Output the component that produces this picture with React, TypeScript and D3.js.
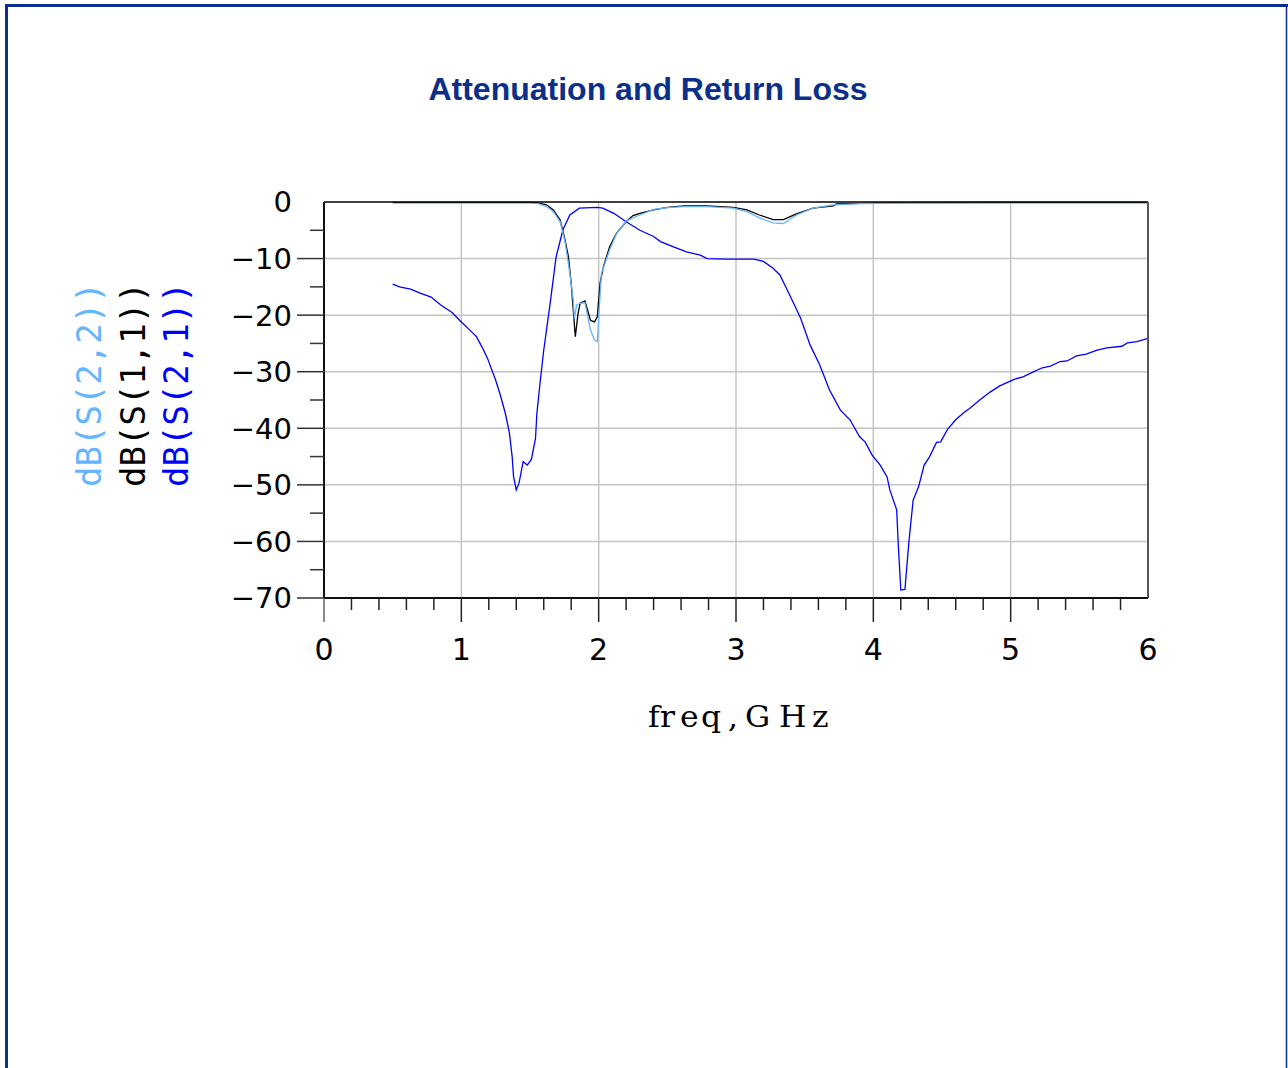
import React from 'react';
import * as d3 from 'd3';

// S21 (attenuation), S11 and S22 (return loss), freq in GHz, level in dB
const freqS21 = [0.50, 0.55, 0.63, 0.70, 0.78, 0.85, 0.93, 1.00, 1.06, 1.11, 1.15, 1.19, 1.25, 1.28, 1.32, 1.35, 1.37, 1.38, 1.40, 1.42, 1.45, 1.48, 1.51, 1.54, 1.55, 1.57, 1.60, 1.65, 1.69, 1.74, 1.79, 1.86, 1.99, 2.03, 2.11, 2.20, 2.30, 2.40, 2.45, 2.54, 2.64, 2.74, 2.79, 2.93, 3.13, 3.20, 3.27, 3.32, 3.39, 3.47, 3.54, 3.61, 3.68, 3.76, 3.83, 3.90, 3.94, 3.99, 4.05, 4.10, 4.12, 4.17, 4.18, 4.20, 4.23, 4.26, 4.29, 4.33, 4.37, 4.41, 4.46, 4.49, 4.54, 4.60, 4.66, 4.70, 4.77, 4.85, 4.92, 5.03, 5.09, 5.15, 5.23, 5.29, 5.36, 5.41, 5.48, 5.55, 5.63, 5.70, 5.81, 5.85, 5.92, 6.00];
const dbS21 = [-14.5, -15.0, -15.4, -16.1, -16.8, -18.2, -19.5, -21.2, -22.6, -23.8, -25.6, -27.6, -31.5, -33.8, -37.3, -40.8, -45.0, -48.5, -50.9, -49.7, -45.9, -46.5, -45.5, -41.8, -37.4, -32.7, -26.2, -17.3, -9.7, -4.9, -2.3, -1.1, -0.95, -1.1, -2.0, -3.5, -5.0, -6.1, -7.0, -7.9, -8.8, -9.4, -10.0, -10.1, -10.1, -10.5, -11.7, -12.9, -16.4, -20.5, -25.3, -28.8, -33.2, -36.8, -38.5, -41.5, -42.4, -44.7, -46.5, -48.6, -50.9, -54.4, -59.8, -68.6, -68.5, -59.8, -52.7, -50.3, -46.5, -45.0, -42.5, -42.4, -40.2, -38.5, -37.2, -36.5, -35.1, -33.6, -32.5, -31.3, -30.9, -30.2, -29.3, -29.0, -28.2, -28.1, -27.2, -26.9, -26.2, -25.8, -25.5, -24.9, -24.7, -24.1];

const freqS11 = [0.50, 1.00, 1.50, 1.56, 1.62, 1.67, 1.72, 1.755, 1.78, 1.80, 1.83, 1.85, 1.865, 1.90, 1.94, 1.97, 1.99, 2.01, 2.035, 2.08, 2.13, 2.20, 2.25, 2.30, 2.40, 2.50, 2.62, 2.79, 2.98, 3.08, 3.17, 3.27, 3.345, 3.44, 3.56, 3.71, 3.73, 3.90, 4.20, 5.00, 6.00];
const dbS11 = [-0.05, -0.05, -0.05, -0.15, -0.5, -1.4, -3.2, -6.7, -9.7, -14.4, -23.8, -19.7, -17.9, -17.5, -20.9, -21.2, -20.3, -14.4, -11.4, -7.9, -5.5, -3.5, -2.4, -2.0, -1.4, -0.95, -0.7, -0.7, -0.95, -1.4, -2.3, -3.1, -3.1, -2.1, -1.1, -0.7, -0.35, -0.25, -0.1, -0.05, -0.05];

const freqS22 = [0.50, 1.00, 1.50, 1.56, 1.62, 1.67, 1.72, 1.755, 1.79, 1.815, 1.823, 1.84, 1.865, 1.90, 1.94, 1.97, 1.99, 2.02, 2.08, 2.13, 2.20, 2.25, 2.30, 2.40, 2.50, 2.62, 2.79, 2.98, 3.08, 3.17, 3.27, 3.345, 3.44, 3.56, 3.71, 3.90, 4.20, 5.00, 6.00];
const dbS22 = [-0.2, -0.2, -0.2, -0.3, -0.8, -1.7, -3.5, -7.0, -12.6, -17.3, -20.6, -18.2, -17.9, -17.8, -22.6, -24.4, -24.7, -12.6, -8.5, -5.6, -3.4, -2.8, -2.3, -1.3, -1.0, -0.8, -0.8, -1.1, -1.7, -2.8, -3.7, -3.8, -2.3, -1.1, -0.5, -0.3, -0.2, -0.2, -0.2];

const xTicks = [0, 1, 2, 3, 4, 5, 6];
const yTicks = [0, -10, -20, -30, -40, -50, -60, -70];
const legendLabels = ['dB(S(2,2))', 'dB(S(1,1))', 'dB(S(2,1))'];

const title = 'Attenuation and Return Loss';
const xLabel = 'freq,GHz';

const C_S22 = '#66b5ff';
const C_S11 = '#000000';
const C_S21 = '#0000ff';
const FRAME = '#0c2f8a';

const left = 324, right = 1148, top = 202, bottom = 598;

// x label glyph offsets (px from its left edge), the picture spaces them unevenly
const xLabelOffsets = [0, 12, 32, 53, 80, 97, 131, 164];
const labelStretch = 1.05;

export default function App() {
  const x = d3.scaleLinear().domain([0, 6]).range([left, right]);
  const y = d3.scaleLinear().domain([0, -70]).range([top, bottom]);

  const line = d3.line<[number, number]>()
    .x(d => x(d[0]))
    .y(d => y(d[1]));

  const s21 = line(freqS21.map((f, i) => [f, dbS21[i]] as [number, number])) || '';
  const s11 = line(freqS11.map((f, i) => [f, dbS11[i]] as [number, number])) || '';
  const s22 = line(freqS22.map((f, i) => [f, dbS22[i]] as [number, number])) || '';

  const minorX = d3.range(0, 30).map(i => i * 0.2).filter(v => Math.abs(v - Math.round(v)) > 1e-6);
  const minorY = d3.range(0, 14).map(i => -5 - i * 10).filter(v => v >= -70);

  return (
    <svg width={1288} height={1068} style={{ position: 'absolute', left: 0, top: 0 }}>
      <rect x={0} y={0} width={1288} height={1068} fill="#fff" />
      {/* outer frame */}
      <line x1={5} x2={1288} y1={5.5} y2={5.5} stroke={FRAME} strokeWidth={3} />
      <line x1={6.5} x2={6.5} y1={4} y2={1068} stroke={FRAME} strokeWidth={3} />
      <line x1={1286.5} x2={1286.5} y1={4} y2={1068} stroke={FRAME} strokeWidth={1.5} />

      <text x={648} y={100} textAnchor="middle" fontFamily="'Liberation Sans', Arial, sans-serif"
        fontWeight="bold" fontSize={32} fill={FRAME}>{title}</text>

      {/* grid */}
      {xTicks.filter(v => v > 0 && v < 6).map(v => (
        <line key={'gx' + v} x1={x(v)} x2={x(v)} y1={top} y2={bottom} stroke="#c4c4c4" strokeWidth={1.5} />
      ))}
      {yTicks.filter(v => v < 0 && v > -70).map(v => (
        <line key={'gy' + v} x1={left} x2={right} y1={y(v)} y2={y(v)} stroke="#c4c4c4" strokeWidth={1.5} />
      ))}

      {/* traces */}
      <path d={s21} fill="none" stroke={C_S21} strokeWidth={1.3} />
      <path d={s11} fill="none" stroke={C_S11} strokeWidth={1.3} />
      <path d={s22} fill="none" stroke={C_S22} strokeWidth={1.3} />

      {/* plot box */}
      <line x1={left} x2={right} y1={top} y2={top} stroke="#000" strokeWidth={1.5} />
      <line x1={right} x2={right} y1={top} y2={bottom} stroke="#555" strokeWidth={2} />
      <line x1={left} x2={left} y1={top} y2={bottom} stroke="#111" strokeWidth={2} />
      <line x1={left} x2={right} y1={bottom} y2={bottom} stroke="#111" strokeWidth={2} />

      {/* y ticks */}
      {yTicks.filter(v => v < 0).map(v => (
        <line key={'ty' + v} x1={297} x2={left} y1={y(v)} y2={y(v)} stroke="#333" strokeWidth={1.5} />
      ))}
      {minorY.map(v => (
        <line key={'my' + v} x1={310} x2={left} y1={y(v)} y2={y(v)} stroke="#333" strokeWidth={1.5} />
      ))}
      {yTicks.map(v => (
        <text key={'ly' + v} x={292} y={y(v)} dy="0.36em" textAnchor="end"
          fontFamily="'DejaVu Sans', sans-serif" fontSize={29} fill="#000">
          {v < 0 ? '\u2212' + Math.abs(v) : String(v)}
        </text>
      ))}

      {/* x ticks */}
      {xTicks.filter(v => v < 6).map(v => (
        <line key={'tx' + v} x1={x(v)} x2={x(v)} y1={bottom} y2={622} stroke={v === 0 ? '#666' : '#222'} strokeWidth={1.5} />
      ))}
      {minorX.map(v => (
        <line key={'mx' + v.toFixed(1)} x1={x(v)} x2={x(v)} y1={bottom} y2={610} stroke="#222" strokeWidth={1.5} />
      ))}
      {xTicks.map(v => (
        <text key={'lx' + v} x={x(v)} y={660} textAnchor="middle"
          fontFamily="'DejaVu Sans', sans-serif" fontSize={30} fill="#000">{v}</text>
      ))}

      <text transform={`translate(648,727) scale(${labelStretch},1)`}
        x={xLabelOffsets.map(o => (o / labelStretch).toFixed(1)).join(' ')} y={0}
        fontFamily="'DejaVu Serif', 'Liberation Serif', serif" fontSize={30} fill="#000">{xLabel}</text>

      {/* rotated legend */}
      {legendLabels.map((s, i) => (
        <text key={s} transform={`translate(${101 + i * 43.5},487) rotate(-90)`}
          fontFamily="'DejaVu Sans Mono', monospace" fontSize={34}
          fill={[C_S22, C_S11, C_S21][i]}>{s}</text>
      ))}
    </svg>
  );
}
